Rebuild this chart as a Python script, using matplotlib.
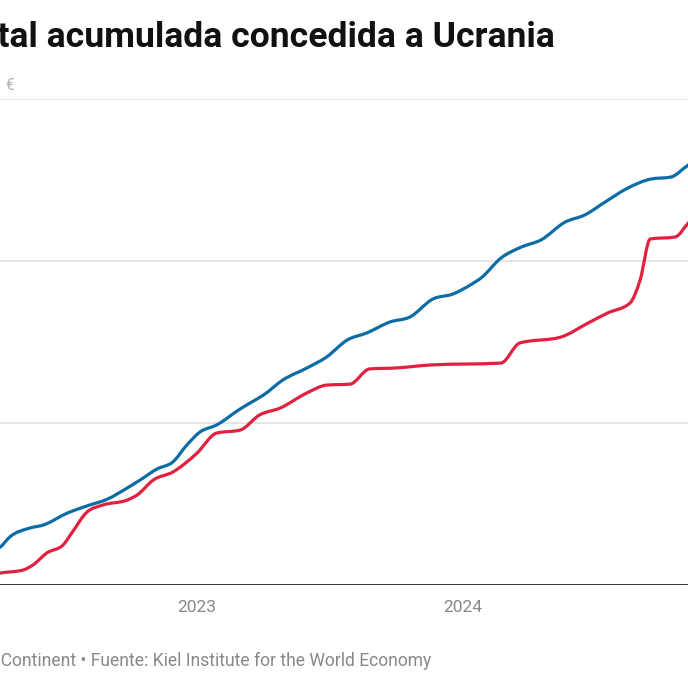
import numpy as np
import matplotlib
matplotlib.use("Agg")
import matplotlib.pyplot as plt
import matplotlib.transforms as mtransforms
import matplotlib.dates as mdates
from matplotlib.path import Path
from matplotlib.patches import PathPatch
import datetime as dt

# ---- data (thousand million €) ----
blue_dates = ["2022-03-16", "2022-04-06", "2022-04-19", "2022-05-17", "2022-06-04", "2022-07-07",
              "2022-08-03", "2022-08-31", "2022-09-27", "2022-10-15", "2022-11-07", "2022-11-29",
              "2022-12-18", "2023-01-05", "2023-01-28", "2023-03-01", "2023-03-15", "2023-04-02",
              "2023-04-29", "2023-06-01", "2023-06-28", "2023-07-26", "2023-08-22", "2023-09-23",
              "2023-10-20", "2023-11-21", "2023-12-18", "2024-01-11", "2024-01-26", "2024-02-22",
              "2024-03-21", "2024-04-17", "2024-05-20", "2024-06-16", "2024-07-14", "2024-08-14",
              "2024-09-15", "2024-10-12", "2024-11-05", "2024-11-28"]
blue_values = [9.9, 11.7, 14.8, 17.6, 18.5, 22.2, 24.4, 26.5, 29.9, 32.4, 35.8, 38.0,
               43.2, 47.2, 49.4, 54.3, 56.2, 58.6, 63.3, 67.0, 70.4, 75.6, 77.8, 81.2,
               82.7, 88.3, 89.8, 92.6, 94.8, 100.9, 104.3, 106.5, 112.0, 114.2, 118.2, 122.5,
               125.3, 125.9, 129.6, 132.7]

red_dates = ["2022-03-16", "2022-04-06", "2022-05-07", "2022-05-21", "2022-06-09", "2022-07-01",
             "2022-07-13", "2022-08-03", "2022-08-25", "2022-09-27", "2022-10-11", "2022-11-02",
             "2022-11-29", "2023-01-01", "2023-01-28", "2023-03-01", "2023-03-28", "2023-04-25",
             "2023-06-01", "2023-06-28", "2023-07-30", "2023-08-26", "2023-10-02", "2023-11-17",
             "2024-02-22", "2024-03-19", "2024-05-14", "2024-06-21", "2024-07-18", "2024-08-17",
             "2024-08-31", "2024-09-14", "2024-10-18", "2024-11-05", "2024-11-28"]
red_values = [2.8, 3.7, 4.6, 6.2, 9.9, 12.3, 16.0, 22.5, 24.7, 26.2, 27.8, 32.4,
              34.9, 40.7, 46.9, 47.8, 52.5, 54.6, 59.3, 61.7, 62.0, 66.7, 67.0, 67.9,
              68.5, 74.7, 76.5, 80.9, 84.0, 87.0, 94.1, 106.8, 107.4, 111.7, 117.3]

y_ticks = [0, 50, 100, 150]
y_tick_labels = ["0", "50", "100", "150 mil millones\u2002€"]
x_ticks = ["2023-01-01", "2024-01-01"]
x_tick_labels = ["2023", "2024"]

title = "Ayuda total acumulada concedida a Ucrania"
source = "Gráfico: Le Grand Continent • Fuente: Kiel Institute for the World Economy"

BLUE = "#0b6ca6"
RED = "#e0213f"

plt.rcParams["font.family"] = ["Roboto", "DejaVu Sans"]

W = H = 688
fig = plt.figure(figsize=(6.88, 6.88), dpi=100)
fig.patch.set_facecolor("white")

y_base, y_top = 585, 99
ax = fig.add_axes([0, (H - y_base) / H, 1, (y_base - y_top) / H])
ax.set_facecolor("none")
for s in ax.spines.values():
    s.set_visible(False)

to_d = lambda s: dt.datetime.strptime(s, "%Y-%m-%d")
ref = dt.datetime(2023, 1, 1)
days_per_px = 365 / 266
x_left = ref - dt.timedelta(days=197 * days_per_px)
x_right = ref + dt.timedelta(days=(688 - 197) * days_per_px)
ax.set_xlim(x_left, x_right)
ax.set_ylim(0, 150)


def monotone_path(xs, ys):
    """Monotone-X cubic Bezier path (like d3.curveMonotoneX) through the data points."""
    x = np.asarray(xs, float)
    y = np.asarray(ys, float)
    n = len(x)
    h = np.diff(x)
    d = np.diff(y) / h
    m = np.zeros(n)
    for k in range(1, n - 1):
        s0, s1 = d[k - 1], d[k]
        p = (s0 * h[k] + s1 * h[k - 1]) / (h[k - 1] + h[k])
        m[k] = (np.sign(s0) + np.sign(s1)) * min(abs(s0), abs(s1), 0.5 * abs(p))
    m[0] = (3 * d[0] - m[1]) / 2
    m[-1] = (3 * d[-1] - m[-2]) / 2
    verts = [(x[0], y[0])]
    codes = [Path.MOVETO]
    for k in range(n - 1):
        dx = h[k] / 3
        verts += [(x[k] + dx, y[k] + m[k] * dx),
                  (x[k + 1] - dx, y[k + 1] - m[k + 1] * dx),
                  (x[k + 1], y[k + 1])]
        codes += [Path.CURVE4] * 3
    return Path(verts, codes)


for v in y_ticks[1:]:
    ax.axhline(v, color="#e3e3e3", lw=1.3, zorder=1)
ax.axhline(0, color="#333333", lw=1.4, zorder=4)

for dates, vals, col in [(blue_dates, blue_values, BLUE), (red_dates, red_values, RED)]:
    xn = mdates.date2num([to_d(s) for s in dates])
    ax.add_patch(PathPatch(monotone_path(xn, vals), facecolor="none", edgecolor=col,
                           lw=2.3, joinstyle="round", capstyle="round", zorder=3))

ax.set_xticks([])
ax.set_yticks([])

# y labels above gridlines: the longest (top) label ends at 15 px, all share its left edge
renderer = fig.canvas.get_renderer()
top_off = mtransforms.offset_copy(ax.get_yaxis_transform(), fig=fig, x=15, y=6, units="dots")
top = ax.text(0, y_ticks[-1], y_tick_labels[-1], transform=top_off, ha="right", va="bottom",
              fontsize=11.5, color="#b3b3b3")
left_px = top.get_window_extent(renderer).x0
off = mtransforms.offset_copy(ax.get_yaxis_transform(), fig=fig, x=left_px, y=6, units="dots")
for v, lab in zip(y_ticks[:-1], y_tick_labels[:-1]):
    ax.text(0, v, lab, transform=off, ha="left", va="bottom", fontsize=11.5, color="#b3b3b3")

# x tick labels
xo = mtransforms.offset_copy(ax.get_xaxis_transform(), fig=fig, x=0, y=-15, units="dots")
for d, lab in zip(x_ticks, x_tick_labels):
    ax.text(to_d(d), 0, lab, transform=xo, ha="center", va="top", fontsize=12.5, color="#888888")

fig.text(555 / W, 1 - 38 / H, title, ha="right", va="center", fontsize=25.55,
         fontweight="bold", color="#111111")
fig.text(431 / W, 1 - 661 / H, source, ha="right", va="center", fontsize=12.65, color="#888888")

fig.savefig("out.png", dpi=100)
